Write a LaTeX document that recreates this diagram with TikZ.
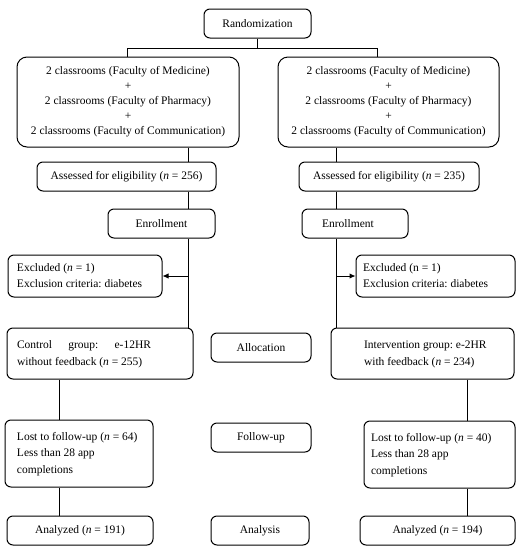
\documentclass[tikz,border=0pt]{standalone}
\usepackage{fontspec}
\setmainfont{Liberation Serif}
\usetikzlibrary{arrows.meta}
\frenchspacing
\newcommand\ltab[3]{\makebox[#2][l]{\hspace*{#1}\begin{tabular}{@{}l@{}}#3\end{tabular}}}
\begin{document}
\begin{tikzpicture}[x=1pt,y=-1pt,
  box/.style={draw, line width=1pt, rounded corners=6pt, inner sep=0pt, align=center,
    font=\fontsize{11.5}{15}\selectfont},
  bigbox/.style={box, rounded corners=10pt},
  lbox/.style={box, font=\fontsize{11.5}{16.5}\selectfont},
  conn/.style={line width=1pt},
  arr/.style={conn, -{Latex[length=6pt,width=5.5pt]}}]
\useasboundingbox (0,0) rectangle (526,550);
% top
\node[box, minimum width=107pt, minimum height=29pt] (rand) at (257.5,23.5) {Randomization};
\node[bigbox, minimum width=222pt, minimum height=90pt] (L1) at (128,102)
  {2 classrooms (Faculty of Medicine)\\+\\2 classrooms (Faculty of Pharmacy)\\+\\2 classrooms (Faculty of Communication)};
\node[bigbox, minimum width=221pt, minimum height=90pt] (R1) at (388.5,102)
  {2 classrooms (Faculty of Medicine)\\+\\2 classrooms (Faculty of Pharmacy)\\+\\2 classrooms (Faculty of Communication)};
\node[box, minimum width=179pt, minimum height=29pt] (AL) at (126.5,176.5) {Assessed for eligibility (\textit{n} = 256)};
\node[box, minimum width=180pt, minimum height=29pt] (AR) at (389,176.5) {Assessed for eligibility (\textit{n} = 235)};
\node[box, minimum width=107pt, minimum height=29pt] (EnL) at (161.5,223.5) {Enrollment};
\node[box, minimum width=106pt, minimum height=29pt] (EnR) at (355,223.5) {Enrollment\hspace*{14pt}};
\node[lbox, minimum width=154pt, minimum height=42pt] (EL) at (85,276)
  {\ltab{9pt}{154pt}{Excluded (\textit{n} = 1)\\Exclusion criteria: diabetes}};
\node[lbox, minimum width=159pt, minimum height=42pt] (ER) at (435.5,276)
  {\ltab{7pt}{159pt}{Excluded (n = 1)\\Exclusion criteria: diabetes}};
% allocation
\node[lbox, minimum width=186pt, minimum height=51pt] (CL) at (100,353.5)
  {\ltab{10pt}{186pt}{\makebox[134pt][s]{Control\hfill group:\hfill e-12HR}\\without feedback (\textit{n} = 255)}};
\node[box, minimum width=100pt, minimum height=29pt] (Alloc) at (261,347.5) {Allocation};
\node[lbox, minimum width=183pt, minimum height=51pt] (IR) at (422.5,353.5)
  {\ltab{33pt}{183pt}{Intervention group: e-2HR\\with feedback (\textit{n} = 234)}};
% follow-up
\node[lbox, minimum width=148pt, minimum height=67pt] (LL) at (79,453.5)
  {\ltab{12pt}{148pt}{Lost to follow-up (\textit{n} = 64)\\Less than 28 app\\completions}};
\node[box, minimum width=100pt, minimum height=29pt] (FU) at (261,437.5) {Follow-up};
\node[lbox, minimum width=151pt, minimum height=67pt] (LR) at (439.5,454.5)
  {\ltab{7pt}{151pt}{Lost to follow-up (\textit{n} = 40)\\Less than 28 app\\completions}};
% analysis
\node[box, minimum width=146pt, minimum height=29pt] (AnL) at (80,530.5) {Analyzed (\textit{n} = 191)};
\node[box, minimum width=98pt, minimum height=29pt] (Ana) at (260,530.5) {Analysis};
\node[box, minimum width=155pt, minimum height=29pt] (AnR) at (437.5,530.5) {Analyzed (\textit{n} = 194)};
% connector guides
\coordinate (bl) at (127,48);
\coordinate (brr) at (377,48);
\coordinate (tl) at (188,0);
\coordinate (tr) at (336,0);
\coordinate (cl) at (59,0);
\coordinate (cr) at (467,0);
% connectors
\draw[conn] (rand.south) -- (rand.south |- bl);
\draw[conn] (L1.north -| bl) |- (brr) -- (R1.north -| brr);
\draw[conn] (L1.south -| tl) -- (AL.north -| tl);
\draw[conn] (AL.south -| tl) -- (EnL.north -| tl);
\draw[conn] (EnL.south -| tl) -- (CL.north -| tl);
\draw[conn] (R1.south -| tr) -- (AR.north -| tr);
\draw[conn] (AR.south -| tr) -- (EnR.north -| tr);
\draw[conn] (EnR.south -| tr) -- (IR.north -| tr);
\draw[arr] (EL.east -| tl) -- (EL.east);
\draw[arr] (ER.west -| tr) -- (ER.west);
\draw[conn] (CL.south -| cl) -- (LL.north -| cl);
\draw[conn] (LL.south -| cl) -- (AnL.north -| cl);
\draw[conn] (IR.south -| cr) -- (LR.north -| cr);
\draw[conn] (LR.south -| cr) -- (AnR.north -| cr);
\end{tikzpicture}
\end{document}
